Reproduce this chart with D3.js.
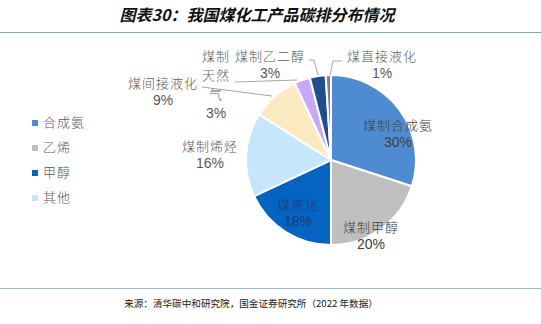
<!DOCTYPE html>
<html><head><meta charset="utf-8">
<script src="https://cdn.jsdelivr.net/npm/d3@7"></script>
<style>body{margin:0;background:#fff;}svg{display:block;}</style>
</head><body>
<svg id="c" width="541" height="324"></svg>
<script>
const categories = ["煤制合成氨","煤制甲醇","煤焦化","煤制烯烃","煤间接液化","煤制天然气","煤制乙二醇","煤直接液化"];
const values = [30,20,18,16,9,3,3,1];
const colors = ["#4F8BD1","#BFBFBF","#0563C1","#C6E6FB","#FBEAC1","#C8A9F7","#1F4E8C","#7F7F7F"];
const legendLabels = ["合成氨","乙烯","甲醇","其他"];
const legendColors = ["#4F8BD1","#BFBFBF","#0563C1","#C6E6FB"];
// label layout: lines of text and center position
const labelLines = [["煤制合成氨","30%"],["煤制甲醇","20%"],["煤焦化","18%"],["煤制烯烃","16%"],["煤间接液化","9%"],["煤制","天然","气","3%"],["煤制乙二醇","3%"],["煤直接液化","1%"]];
const labelPos = [[398,126],[371,228],[298,205],[210,147],[163,84],[216,57],[270,57],[382,57]];
const labelColor = ["#404040","#404040","#1A3F73","#595959","#595959","#595959","#595959","#595959"];
const leaders = [null,null,null,null,[[202,87],[272,96]],[[235,82],[297,80]],[[309,60],[314,60],[318,75]],[[342,61],[333,61],[330,75]]];

const svg = d3.select("#c");
const W=541;
svg.append("text").attr("x",257).attr("y",21).attr("text-anchor","middle")
  .attr("font-family","'Noto Sans CJK SC'").attr("font-size",16).attr("font-weight","bold")
  .attr("font-style","italic").attr("fill","#111").text("图表30：我国煤化工产品碳排分布情况");
svg.append("line").attr("x1",0).attr("x2",W).attr("y1",32.5).attr("y2",32.5).attr("stroke","#7BA7BF").attr("stroke-width",1.2);
svg.append("line").attr("x1",0).attr("x2",W).attr("y1",288.5).attr("y2",288.5).attr("stroke","#9DBBD0").attr("stroke-width",1);
svg.append("text").attr("x",251).attr("y",307).attr("text-anchor","middle")
  .attr("font-family","'Noto Sans CJK SC'").attr("font-size",9.6).attr("fill","#222")
  .text("来源：清华碳中和研究院，国金证券研究所（2022 年数据）");

const cx=331, cy=160, r=85;
const pie = d3.pie().sort(null).value(d=>d)(values);
const arc = d3.arc().innerRadius(0).outerRadius(r);
const g = svg.append("g").attr("transform",`translate(${cx},${cy})`);
g.selectAll("path").data(pie).join("path").attr("d",arc)
  .attr("fill",(d,i)=>colors[i]).attr("stroke","#fff").attr("stroke-width",2).attr("stroke-linejoin","round");

// leader lines
leaders.forEach(l=>{ if(!l) return;
  svg.append("path").attr("d",d3.line()(l)).attr("fill","none").attr("stroke","#A6A6A6").attr("stroke-width",1);
});

// labels
labelLines.forEach((lines,i)=>{
  const [x,y]=labelPos[i];
  lines.forEach((t,j)=>{
    const isPct = /%$/.test(t);
    const step = (i===5) ? 19 : 17;
    svg.append("text").attr("x",x).attr("y",y + j*step).attr("text-anchor","middle")
      .attr("dominant-baseline","middle")
      .attr("font-family", isPct ? "'Liberation Sans',Arial" : "'Noto Sans CJK SC'")
      .attr("font-weight", isPct ? 400 : 300)
      .attr("font-size", isPct ? 14 : 13).attr("letter-spacing", isPct?0:1)
      .attr("fill", labelColor[i]).text(t);
  });
});

// legend
const lg = svg.append("g");
legendLabels.forEach((t,i)=>{
  const y=123+i*25;
  lg.append("rect").attr("x",32).attr("y",y-3).attr("width",6).attr("height",6).attr("fill",legendColors[i]);
  lg.append("text").attr("x",43).attr("y",y).attr("dominant-baseline","middle")
    .attr("font-family","'Noto Sans CJK SC'").attr("font-weight",300).attr("font-size",13)
    .attr("letter-spacing",1).attr("fill","#595959").text(t);
});
</script>
</body></html>
